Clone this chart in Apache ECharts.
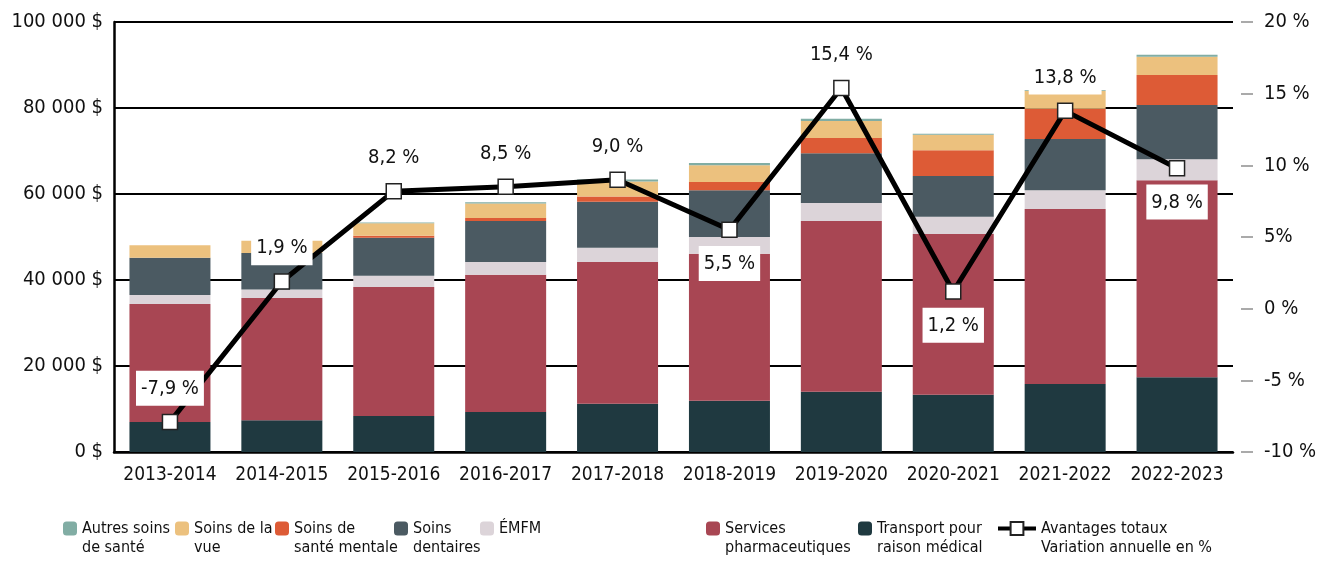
<!DOCTYPE html>
<html>
<head>
<meta charset="utf-8">
<script src="https://cdn.jsdelivr.net/npm/echarts@6/dist/echarts.min.js"></script>
<style>
    html, body { margin: 0; padding: 0; background: #fff; }
    #chart { width: 1321px; height: 563px; }
</style>
</head>
<body>
<div id="chart"></div>
<script>
// 数据
const years = ['2013-2014', '2014-2015', '2015-2016', '2016-2017', '2017-2018',
    '2018-2019', '2019-2020', '2020-2021', '2021-2022', '2022-2023'];
const transport = [7000, 7400, 8400, 9300, 11200, 11900, 14000, 13300, 15800, 17400];
const pharma = [27400, 28400, 30000, 31900, 33000, 34200, 39700, 37400, 40700, 45800];
const emfm = [2100, 2000, 2600, 3000, 3300, 3900, 4200, 4000, 4400, 4900];
const dental = [8700, 8500, 8800, 9500, 10700, 10900, 11600, 9500, 11900, 12600];
const mental = [0, 0, 500, 700, 1200, 1900, 3500, 6000, 7000, 7000];
const vision = [2900, 2800, 2900, 3400, 3500, 3900, 4000, 3600, 4200, 4200];
const other = [0, 0, 200, 300, 500, 500, 500, 200, 200, 500];
const change = [-7.9, 1.9, 8.2, 8.5, 9.0, 5.5, 15.4, 1.2, 13.8, 9.8];
const rightTicks = ['-10 %', '-5 %', '0 %', '5%', '10 %', '15 %', '20 %'];

const FONT = "'DejaVu Sans Condensed', 'DejaVu Sans', sans-serif";

// 堆叠顺序（从下到上）
const stackDefs = [
    { name: 'Transport pour\nraison médical', data: transport, color: '#1f3940' },
    { name: 'Services\npharmaceutiques', data: pharma, color: '#a84653' },
    { name: 'ÉMFM', data: emfm, color: '#dcd4d9' },
    { name: 'Soins\ndentaires', data: dental, color: '#4b5a62' },
    { name: 'Soins de\nsanté mentale', data: mental, color: '#dd5b36' },
    { name: 'Soins de la\nvue', data: vision, color: '#ecc17e' },
    { name: 'Autres soins\nde santé', data: other, color: '#81ada4' }
];
const lineName = 'Avantages totaux\nVariation annuelle en %';

// 图例顺序与位置
const legendOrder = ['Autres soins\nde santé', 'Soins de la\nvue', 'Soins de\nsanté mentale',
    'Soins\ndentaires', 'ÉMFM', 'Services\npharmaceutiques', 'Transport pour\nraison médical', lineName];
const legendLeft = [63, 175, 275, 394, 480, 706, 858, 996];
const below = [5, 7, 9];

const chart = echarts.init(document.getElementById('chart'));

const series = stackDefs.map(function (s) {
    return {
        name: s.name,
        type: 'bar',
        stack: 'total',
        barWidth: 81,
        itemStyle: { color: s.color },
        data: s.data
    };
});

series.push({
    name: lineName,
    type: 'line',
    yAxisIndex: 1,
    z: 10,
    symbol: 'rect',
    symbolSize: 15,
    lineStyle: { color: '#000', width: 5 },
    itemStyle: { color: '#fff', borderColor: '#222', borderWidth: 1.5 },
    data: change.map(function (v, i) {
        return {
            value: v,
            label: { position: below.indexOf(i) >= 0 ? 'bottom' : 'top' }
        };
    }),
    label: {
        show: true,
        distance: 8,
        fontFamily: FONT,
        fontSize: 20,
        color: '#111',
        backgroundColor: '#fff',
        padding: [8, 5, 7, 5],
        formatter: function (p) {
            return p.value.toFixed(1).replace('.', ',') + ' %';
        }
    }
});

// 图例：图标对齐第一行文字
const legends = legendOrder.map(function (name, i) {
    const twoLines = name.indexOf('\n') >= 0;
    return {
        data: [name],
        left: legendLeft[i],
        top: twoLines ? 500 : 519,
        padding: 0,
        itemWidth: i === 7 ? 38 : 14,
        itemHeight: i === 7 ? 16 : 14,
        itemGap: 5,
        selectedMode: false,
        lineStyle: i === 7 ? { width: 4, color: '#000' } : undefined,
        formatter: function (n) {
            return twoLines ? '\u00a0\n' + n : n;
        },
        textStyle: {
            fontFamily: FONT,
            fontSize: 16,
            lineHeight: 19,
            color: '#111'
        }
    };
});

chart.setOption({
    animation: false,
    grid: { left: 114, right: 88, top: 22, bottom: 111 },
    legend: legends,
    xAxis: {
        type: 'category',
        data: years,
        axisLine: { lineStyle: { color: '#000', width: 2.5 } },
        axisTick: { inside: true, length: 11, lineStyle: { color: '#000', width: 2 } },
        axisLabel: { interval: 0, fontFamily: FONT, fontSize: 19, color: '#111', margin: 14 }
    },
    yAxis: [{
        type: 'value',
        min: 0,
        max: 100000,
        interval: 20000,
        axisLine: { show: true, lineStyle: { color: '#000', width: 2.5 } },
        axisTick: { show: false },
        splitLine: { lineStyle: { color: '#000', width: 2 } },
        axisLabel: {
            fontFamily: FONT,
            fontSize: 20,
            color: '#111',
            margin: 11,
            formatter: function (v) {
                return String(v).replace(/\B(?=(\d{3})+(?!\d))/g, ' ') + ' $';
            }
        }
    }, {
        type: 'value',
        min: -10,
        max: 20,
        interval: 5,
        offset: 8,
        axisLine: { show: false },
        axisTick: { show: true, length: 12, lineStyle: { color: '#aaa', width: 2 } },
        splitLine: { show: false },
        axisLabel: {
            fontFamily: FONT,
            fontSize: 20,
            color: '#111',
            margin: 23,
            formatter: function (v) {
                return rightTicks[(v + 10) / 5];
            }
        }
    }],
    series: series
});
</script>
</body>
</html>
